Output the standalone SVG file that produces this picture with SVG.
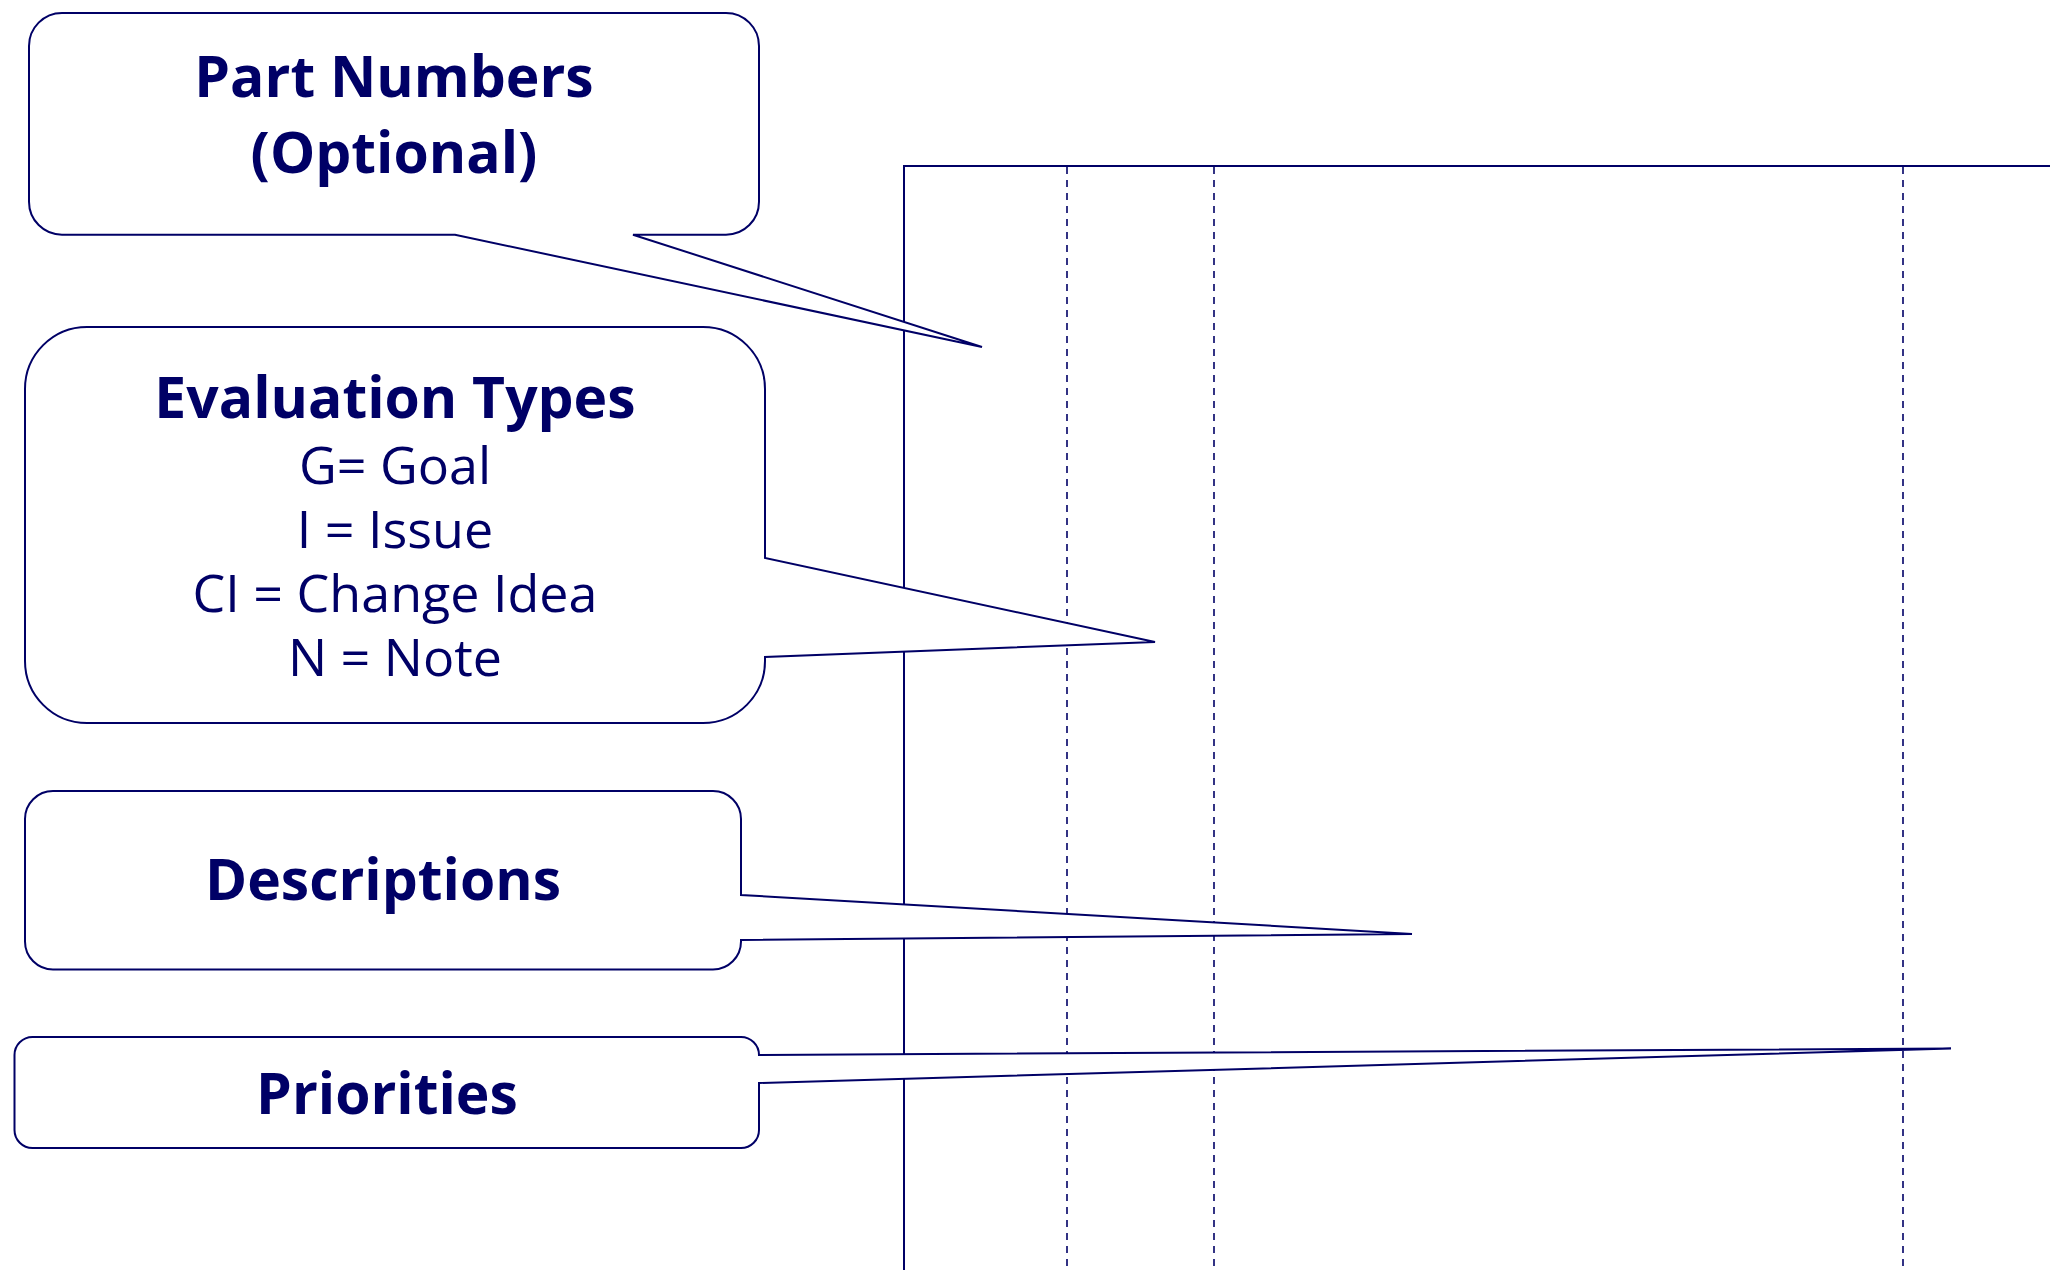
<svg xmlns="http://www.w3.org/2000/svg" width="2050" height="1270" viewBox="0 0 2050 1270">
<style>
.frame{fill:none;stroke:#000066;stroke-width:2}
.dash{fill:none;stroke:#000066;stroke-width:1.6;stroke-dasharray:7 6}
.callout{fill:#ffffff;stroke:#000066;stroke-width:2;stroke-linejoin:miter}
.title{font-family:"Open Sans","Noto Sans",sans-serif;font-weight:bold;font-size:57px;fill:#000066;text-anchor:middle}
.line{font-family:"Open Sans","Noto Sans",sans-serif;font-size:52px;fill:#000066;text-anchor:middle}
</style>
<rect width="2050" height="1270" fill="#ffffff"/>
<g id="frame">
<path class="frame" d="M904,1272 V166 H2052"/>
<line class="dash" x1="1067" y1="167" x2="1067" y2="1270"/>
<line class="dash" x1="1214" y1="167" x2="1214" y2="1270"/>
<line class="dash" x1="1903" y1="167" x2="1903" y2="1270"/>
</g>
<g id="part-numbers">
<path class="callout" d="M62,13 H726 A33,33 0 0 1 759,46 V201.7 A33,33 0 0 1 726,234.7 H633 L982,347 L455,234.7 H62 A33,33 0 0 1 29,201.7 V46 A33,33 0 0 1 62,13 Z"/>
<text class="title" x="394" y="97">Part Numbers</text>
<text class="title" x="394" y="173">(Optional)</text>
</g>
<g id="evaluation-types">
<path class="callout" d="M87,327 H703 A62,62 0 0 1 765,389 V558 L1155,642 L765,657 V661 A62,62 0 0 1 703,723 H87 A62,62 0 0 1 25,661 V389 A62,62 0 0 1 87,327 Z"/>
<text class="title" x="395" y="418">Evaluation Types</text>
<text class="line" x="395" y="484">G= Goal</text>
<text class="line" x="395" y="548">I = Issue</text>
<text class="line" x="395" y="612">CI = Change Idea</text>
<text class="line" x="395" y="676">N = Note</text>
</g>
<g id="descriptions">
<path class="callout" d="M53,791 H713 A28,28 0 0 1 741,819 V895 L1412,934 L741,940 V941.5 A28,28 0 0 1 713,969.5 H53 A28,28 0 0 1 25,941.5 V819 A28,28 0 0 1 53,791 Z"/>
<text class="title" x="383" y="900">Descriptions</text>
</g>
<g id="priorities">
<path class="callout" d="M32.5,1037 H741 A18,18 0 0 1 759,1055 L1951,1048.5 L759,1083 V1130 A18,18 0 0 1 741,1148 H32.5 A18,18 0 0 1 14.5,1130 V1055 A18,18 0 0 1 32.5,1037 Z"/>
<text class="title" x="387" y="1114">Priorities</text>
</g>
</svg>
